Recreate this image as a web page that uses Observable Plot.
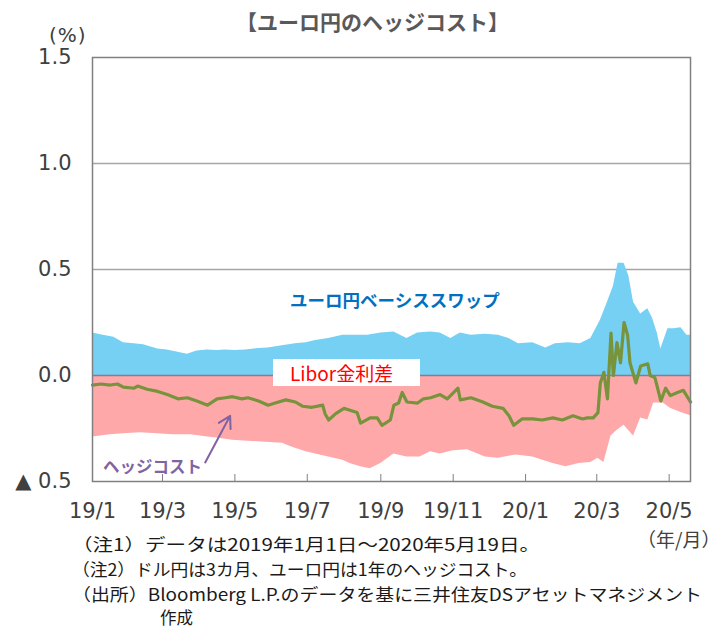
<!DOCTYPE html>
<html><head><meta charset="utf-8">
<script src="https://cdn.jsdelivr.net/npm/d3@7"></script>
<script src="https://cdn.jsdelivr.net/npm/@observablehq/plot@0.6"></script>
<style>
body{margin:0;background:#fff;}
#wrap{position:relative;width:719px;height:630px;overflow:hidden;font-family:"Noto Sans CJK JP",sans-serif;}
.ov{position:absolute;white-space:nowrap;line-height:1;}
</style></head><body>
<div id="wrap"></div>
<script>
// ユーロ円ベーシススワップ (%)
const basisDates = ["2019-01-01","2019-01-10","2019-01-19","2019-01-27","2019-02-05","2019-02-13","2019-02-25","2019-03-05","2019-03-14","2019-03-22","2019-03-30","2019-04-08","2019-04-16","2019-04-23","2019-05-01","2019-05-10","2019-05-21","2019-05-29","2019-06-10","2019-06-21","2019-06-30","2019-07-08","2019-07-19","2019-07-31","2019-08-09","2019-08-21","2019-09-01","2019-09-12","2019-09-23","2019-10-02","2019-10-13","2019-10-21","2019-10-30","2019-11-07","2019-11-16","2019-11-28","2019-12-09","2019-12-18","2019-12-26","2020-01-07","2020-01-18","2020-01-26","2020-02-06","2020-02-16","2020-02-25","2020-03-04","2020-03-10","2020-03-15","2020-03-19","2020-03-24","2020-03-28","2020-04-01","2020-04-07","2020-04-13","2020-04-17","2020-04-21","2020-04-24","2020-04-30","2020-05-05","2020-05-11","2020-05-16","2020-05-19"];
const basisValues = [0.20,0.19,0.18,0.155,0.15,0.145,0.125,0.12,0.11,0.10,0.115,0.12,0.118,0.12,0.118,0.12,0.127,0.13,0.14,0.15,0.155,0.165,0.175,0.19,0.19,0.19,0.20,0.205,0.175,0.20,0.205,0.20,0.175,0.20,0.19,0.195,0.19,0.175,0.15,0.155,0.13,0.15,0.155,0.15,0.175,0.26,0.345,0.42,0.53,0.53,0.47,0.345,0.29,0.315,0.27,0.20,0.125,0.22,0.22,0.225,0.19,0.19];

// Libor金利差 (%)
const liborDates = ["2019-01-01","2019-01-16","2019-01-27","2019-02-10","2019-02-25","2019-03-10","2019-03-25","2019-04-08","2019-04-16","2019-04-29","2019-05-12","2019-05-27","2019-06-10","2019-06-19","2019-06-30","2019-07-08","2019-07-19","2019-07-31","2019-08-06","2019-08-15","2019-08-23","2019-09-01","2019-09-12","2019-09-23","2019-10-04","2019-10-13","2019-10-21","2019-11-01","2019-11-13","2019-11-28","2019-12-09","2019-12-24","2020-01-07","2020-01-24","2020-02-04","2020-02-15","2020-02-25","2020-03-02","2020-03-07","2020-03-13","2020-03-18","2020-03-24","2020-04-01","2020-04-07","2020-04-13","2020-04-18","2020-04-26","2020-05-02","2020-05-11","2020-05-19"];
const liborValues = [-0.29,-0.28,-0.275,-0.27,-0.275,-0.28,-0.28,-0.29,-0.295,-0.305,-0.31,-0.315,-0.32,-0.34,-0.36,-0.37,-0.385,-0.40,-0.415,-0.43,-0.44,-0.415,-0.37,-0.385,-0.385,-0.36,-0.37,-0.355,-0.35,-0.385,-0.39,-0.375,-0.385,-0.415,-0.43,-0.415,-0.41,-0.39,-0.41,-0.285,-0.26,-0.235,-0.285,-0.20,-0.21,-0.13,-0.13,-0.155,-0.175,-0.19];

// ヘッジコスト (%)
const hedgeDates = ["2019-01-01","2019-01-08","2019-01-16","2019-01-22","2019-01-27","2019-02-05","2019-02-08","2019-02-16","2019-02-25","2019-03-05","2019-03-14","2019-03-22","2019-03-30","2019-04-08","2019-04-16","2019-04-23","2019-04-29","2019-05-07","2019-05-12","2019-05-21","2019-05-29","2019-06-04","2019-06-13","2019-06-21","2019-06-27","2019-07-05","2019-07-14","2019-07-16","2019-07-19","2019-07-25","2019-08-01","2019-08-04","2019-08-12","2019-08-15","2019-08-23","2019-08-29","2019-09-02","2019-09-09","2019-09-12","2019-09-16","2019-09-19","2019-09-23","2019-10-02","2019-10-07","2019-10-13","2019-10-21","2019-10-27","2019-11-05","2019-11-07","2019-11-16","2019-11-26","2019-12-04","2019-12-13","2019-12-18","2019-12-22","2019-12-29","2020-01-07","2020-01-15","2020-01-24","2020-02-01","2020-02-10","2020-02-18","2020-02-22","2020-02-27","2020-03-02","2020-03-04","2020-03-07","2020-03-10","2020-03-13","2020-03-15","2020-03-18","2020-03-21","2020-03-24","2020-03-27","2020-03-29","2020-04-03","2020-04-07","2020-04-13","2020-04-15","2020-04-19","2020-04-24","2020-04-28","2020-05-02","2020-05-08","2020-05-13","2020-05-19"];
const hedgeValues = [-0.045,-0.04,-0.045,-0.04,-0.055,-0.06,-0.05,-0.065,-0.075,-0.09,-0.11,-0.105,-0.12,-0.14,-0.11,-0.105,-0.10,-0.11,-0.105,-0.12,-0.14,-0.13,-0.115,-0.125,-0.145,-0.15,-0.14,-0.18,-0.21,-0.18,-0.155,-0.16,-0.175,-0.225,-0.20,-0.20,-0.235,-0.21,-0.14,-0.13,-0.08,-0.125,-0.13,-0.11,-0.105,-0.09,-0.11,-0.06,-0.115,-0.105,-0.125,-0.145,-0.155,-0.19,-0.235,-0.205,-0.205,-0.21,-0.20,-0.21,-0.19,-0.205,-0.20,-0.20,-0.175,-0.035,0.015,-0.11,0.20,0.0,0.155,0.06,0.25,0.19,0.06,-0.035,0.045,0.055,0.0,-0.01,-0.12,-0.06,-0.095,-0.08,-0.07,-0.125];

const xTickDates = ["2019-01-01","2019-03-01","2019-05-01","2019-07-01","2019-09-01","2019-11-01","2020-01-01","2020-03-01","2020-05-01"];
const xTickLabels = ["19/1","19/3","19/5","19/7","19/9","19/11","20/1","20/3","20/5"];
const yTicks = [-0.5, 0.0, 0.5, 1.0, 1.5];
const yTickLabels = ["▲ 0.5","0.0","0.5","1.0","1.5"];

const toRows = (ds, vs) => ds.map((d, i) => ({date: new Date(d), value: vs[i]}));
const basis = toRows(basisDates, basisValues);
const libor = toRows(liborDates, liborValues);
const hedge = toRows(hedgeDates, hedgeValues);
const xTicks = xTickDates.map(d => new Date(d));
const xLabelMap = new Map(xTicks.map((d, i) => [+d, xTickLabels[i]]));
const yLabelMap = new Map(yTicks.map((v, i) => [v, yTickLabels[i]]));

const chart = Plot.plot({
  width: 719, height: 630,
  marginTop: 57, marginBottom: 149, marginLeft: 92, marginRight: 29,
  style: {fontFamily: "DejaVu Sans", fontSize: "21px", color: "#404040", background: "transparent"},
  x: {type: "utc", domain: [new Date("2019-01-01"), new Date("2020-05-19")]},
  y: {domain: [-0.5, 1.5]},
  marks: [
    Plot.ruleY([0.5, 1.0], {stroke: "#a6a6a6", strokeWidth: 1.5}),
    Plot.areaY(basis, {x: "date", y: "value", fill: "#75d0f3"}),
    Plot.areaY(libor, {x: "date", y: "value", fill: "#ffa8aa"}),
    Plot.ruleY([0], {stroke: "#8e7b8a", strokeWidth: 1.5}),
    Plot.line(hedge, {x: "date", y: "value", stroke: "#77933c", strokeWidth: 3.2, strokeLinejoin: "round"}),
    Plot.frame({stroke: "#808080", strokeWidth: 1.5}),
    Plot.axisY({ticks: yTicks, tickSize: 0, tickPadding: 21, tickFormat: v => yLabelMap.get(v), fill: "#404040", fontSize: 21}),
    Plot.axisX({ticks: xTicks, tickSize: -7, tickPadding: 29, tickFormat: d => xLabelMap.get(+d), stroke: "#808080", fill: "#404040", fontSize: 21}),
    Plot.arrow([{x1: new Date("2019-04-06"), y1: -0.41, x2: new Date("2019-04-27"), y2: -0.19}],
      {x1: "x1", y1: "y1", x2: "x2", y2: "y2", stroke: "#8064a2", strokeWidth: 2, headLength: 10})
  ]
});

const wrap = document.getElementById("wrap");
wrap.appendChild(chart);
chart.style.position = "absolute"; chart.style.left = "0"; chart.style.top = "0";

function ov(html, css) {
  const d = document.createElement("div");
  d.className = "ov"; d.innerHTML = html; d.style.cssText += css;
  wrap.appendChild(d);
  return d;
}
ov("【ユーロ円のヘッジコスト】", "left:0;width:719px;text-align:center;top:11px;font-size:21px;font-weight:bold;color:#595959;padding-left:26px;box-sizing:border-box;");
ov("(%)", "left:49px;top:25px;font-family:'DejaVu Sans';font-size:20px;color:#404040;letter-spacing:1px;");
ov("ユーロ円ベーシススワップ", "left:290px;top:291px;font-size:17.5px;font-weight:bold;color:#0070c0;");
ov("Libor金利差", "left:273px;top:359px;width:147px;height:27px;background:#fff;color:#ff0000;font-size:19px;padding-left:17px;box-sizing:border-box;line-height:27px;");
ov("ヘッジコスト", "left:103px;top:458px;font-size:16.5px;font-weight:bold;color:#8064a2;");
ov("（年/月）", "left:637px;top:529px;font-size:19px;color:#404040;");
const notes = ["（注1）データは2019年1月1日～2020年5月19日。","（注2）ドル円は3カ月、ユーロ円は1年のヘッジコスト。","（出所）Bloomberg L.P.のデータを基に三井住友DSアセットマネジメント"];
const noteWidths = [468, 455, 630];
notes.forEach((t, i) => {
  const d = ov(t, `left:72px;top:${535 + i * 25}px;font-size:17px;color:#1a1a1a;transform-origin:0 0;`);
  const w = d.getBoundingClientRect().width;
  d.style.transform = `scaleX(${noteWidths[i] / w})`;
});
ov("作成", "left:160px;top:609px;font-size:16.5px;color:#1a1a1a;");
</script>
</body></html>
